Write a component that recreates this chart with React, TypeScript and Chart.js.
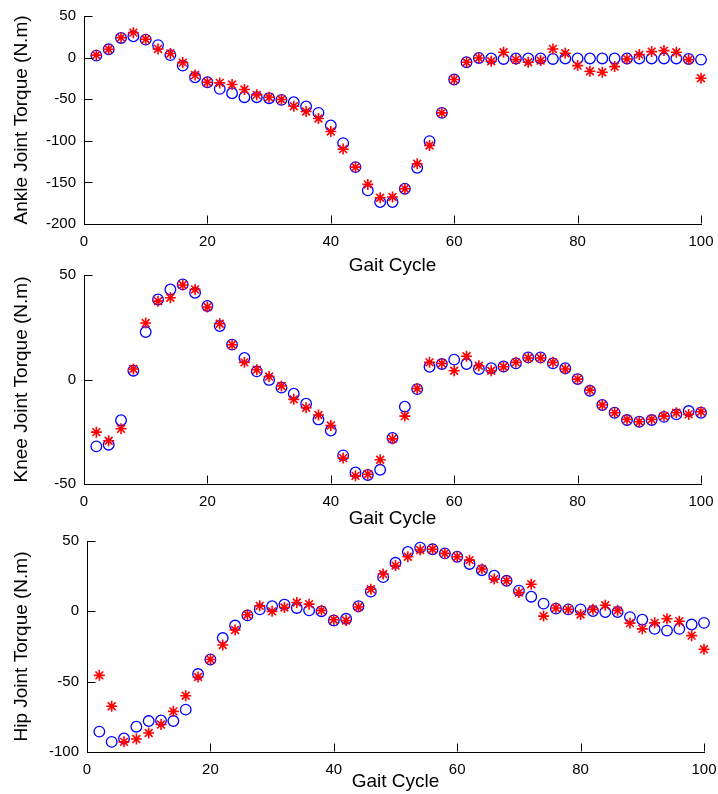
import React, { useEffect, useRef } from "react";
import { Chart, registerables } from "chart.js";

Chart.register(...registerables);

const gaitCycle = [2, 4, 6, 8, 10, 12, 14, 16, 18, 20, 22, 24, 26, 28, 30, 32, 34, 36, 38, 40, 42, 44, 46, 48, 50,
  52, 54, 56, 58, 60, 62, 64, 66, 68, 70, 72, 74, 76, 78, 80, 82, 84, 86, 88, 90, 92, 94, 96, 98, 100];

const ankleBlue = [2.4, 10, 23.6, 25.6, 21.6, 15, 3, -9.6, -23.6, -29.6, -37.6, -42.8, -47.6, -47.6, -48.8, -50.8,
  -53.6, -58.8, -66.4, -81.6, -102.8, -131.6, -159.6, -173.6,
  -173.6, -157.6, -132.4, -100.4, -66.4, -26.4, -5.6, -0.4, -1, -1.6, -1, -1, -1, -1.6, -1, -1, -1, -1, -1, -1, -1, -1, -1, -1, -1.6, -2.4];
const ankleRed = [3, 10, 24, 30, 22, 10.4, 5, -6, -21, -29.6, -30.4, -32.4, -38.4, -44.8, -47.6, -50.4, -58.4, -64.8,
  -73.2, -88.8, -110, -131.6, -152.4, -168.4,
  -167.6, -157.6, -127.6, -105.6, -66.4, -26.4, -5.6, -0.4, -4.4, 6.4, -2.4, -5.6, -3.6, 10.4, 5.2, -9.6, -16.4, -17.6,
  -10.8, -1.6, 3.6, 7.2, 8.4, 6.4, -2.4, -24.8];

const kneeBlue = [-32, -31.2, -19.5, 4.2, 22.7, 38.3, 43.1, 45.5, 41.5, 35.2, 25.6, 16.7, 10.3, 3.9, -0.2, -3.9, -6.8,
  -11.6, -19.1, -24.4, -36.3, -44.5, -45.7, -43.2,
  -28, -13, -4.6, 6.1, 7.4, 9.5, 7.4, 5, 5.4, 6.2, 7.7, 10.6, 10.6, 7.7, 5.4, 0.2, -5.4, -12.2, -15.9, -19.4, -20.2,
  -19.4, -17.9, -16.7, -15.1, -15.9];
const kneeRed = [-25.2, -29.3, -23.6, 5, 27, 37.5, 39.1, 45.2, 43.1, 34.7, 26.7, 16.6, 8.2, 4.7, 1.4, -3.1, -9.5, -13.5,
  -17, -22, -37.6, -46.1, -45.3, -38.4,
  -28.4, -17.5, -4.3, 8.2, 7.7, 4.2, 11.1, 6.6, 4.2, 6.1, 8.2, 10.3, 10.3, 8.2, 5, 0.2, -5.1, -12.2, -15.9, -19.1,
  -20.2, -19.1, -17.5, -15.9, -16.7, -15.4];

const hipBlue = [-85.5, -92.8, -90.4, -82, -78, -77.6, -78, -69.9, -44.6, -34.2, -19, -10.1, -2.9, 1.4, 3.6, 4.8, 2.4,
  0.7, 0, -6.5, -5.3, 3.6, 14, 24.3,
  34.5, 42.2, 45.3, 44.1, 41.2, 38.8, 33.7, 29.2, 25.3, 21.7, 14.7, 10.4, 5.5, 1.9, 1.4, 1.4, 0.2, -0.5, -0.5, -4.1,
  -6, -12.5, -13.7, -12.5, -9.4, -8.2];
const hipRed = [-45.5, -67.5, -92.8, -90.8, -86.5, -80.5, -71.1, -60, -46.7, -34.2, -23.9, -13.3, -2.4, 3.9, 0, 2.7,
  6.3, 5.1, 0.7, -6, -6.5, 3.1, 15.7, 26.5,
  32.5, 38.8, 43.6, 44.1, 41.2, 38.8, 36.4, 30.1, 22.9, 21.7, 13.3, 19.3, -3.4, 2.4, 1.4, -2.2, 1.4, 4.3, 0.7, -8.4,
  -12.5, -8.2, -5.3, -7, -17.3, -27];

const xTitle = "Gait Cycle";
const yTitles = ["Ankle Joint Torque (N.m)", "Knee Joint Torque (N.m)", "Hip Joint Torque (N.m)"];
const yRanges = [[-200, 50], [-50, 50], [-100, 50]];

const FONT = '"Liberation Sans", Arial, Helvetica, sans-serif';
const TICK_LEN = 8;

const innerTicks = {
  id: "innerTicks",
  afterDraw(chart: any) {
    const ctx = chart.ctx;
    const area = chart.chartArea;
    const xs = chart.scales.x;
    const ys = chart.scales.y;
    ctx.save();
    ctx.strokeStyle = "#000";
    ctx.lineWidth = 1;
    ctx.beginPath();
    const yb = Math.round(area.bottom) - 0.5;
    xs.ticks.forEach((t: any) => {
      const px = Math.round(xs.getPixelForValue(t.value)) + 0.5;
      ctx.moveTo(px, yb);
      ctx.lineTo(px, yb - TICK_LEN);
    });
    const xl = Math.round(area.left) + 0.5;
    ys.ticks.forEach((t: any) => {
      const py = Math.round(ys.getPixelForValue(t.value)) + 0.5;
      ctx.moveTo(xl, py);
      ctx.lineTo(xl + TICK_LEN, py);
    });
    ctx.stroke();
    ctx.restore();
  },
};

const zeroPad = (s: any) => {
  s.paddingLeft = 0;
  s.paddingRight = 0;
  s.paddingTop = 0;
  s.paddingBottom = 0;
};

type PanelProps = {
  top: number;
  height: number;
  padTop: number;
  axisLeft: number;
  padRight: number;
  xAxisHeight: number;
  titlePadBottom: number;
  yTitle: string;
  yMin: number;
  yMax: number;
  blue: number[];
  red: number[];
};

function Panel(p: PanelProps) {
  const ref = useRef<HTMLCanvasElement>(null);
  useEffect(() => {
    if (!ref.current) return;
    const toPts = (arr: number[]) => gaitCycle.map((x, i) => ({ x, y: arr[i] }));
    const chart = new Chart(ref.current, {
      type: "scatter",
      data: {
        datasets: [
          {
            label: "red",
            data: toPts(p.red),
            pointStyle: "star",
            pointRadius: 5.5,
            pointBorderWidth: 1.6,
            borderColor: "#ff0000",
            backgroundColor: "#ff0000",
            pointBorderColor: "#ff0000",
            clip: false,
          } as any,
          {
            label: "blue",
            data: toPts(p.blue),
            pointStyle: "circle",
            pointRadius: 5.3,
            pointBorderWidth: 1.3,
            borderColor: "#0000ff",
            pointBorderColor: "#0000ff",
            pointBackgroundColor: "rgba(0,0,0,0)",
            backgroundColor: "rgba(0,0,0,0)",
            clip: false,
          } as any,
        ],
      },
      options: {
        responsive: false,
        animation: false,
        events: [],
        layout: { autoPadding: false, padding: { top: p.padTop, right: p.padRight, left: 0, bottom: 0 } },
        plugins: { legend: { display: false }, tooltip: { enabled: false } },
        scales: {
          x: {
            type: "linear",
            position: "bottom",
            min: 0,
            max: 100,
            ticks: { stepSize: 20, padding: 8.5, color: "#000", font: { family: FONT, size: 15 }, maxRotation: 0 },
            grid: { drawOnChartArea: false, drawTicks: false, color: "#000", lineWidth: 1 },
            border: { display: true, color: "#000", width: 1 },
            title: {
              display: true,
              text: xTitle,
              color: "#000",
              font: { family: FONT, size: 19 },
              padding: { top: 0, bottom: p.titlePadBottom },
            },
            afterFit: (s: any) => {
              s.height = p.xAxisHeight;
              zeroPad(s);
            },
          },
          y: {
            type: "linear",
            position: "left",
            min: p.yMin,
            max: p.yMax,
            ticks: { stepSize: 50, padding: 8, color: "#000", font: { family: FONT, size: 15 } },
            grid: { drawOnChartArea: false, drawTicks: false, color: "#000", lineWidth: 1 },
            border: { display: true, color: "#000", width: 1 },
            title: {
              display: true,
              text: p.yTitle,
              color: "#000",
              font: { family: FONT, size: 19 },
              padding: { top: 10, bottom: 0 },
            },
            afterFit: (s: any) => {
              s.width = p.axisLeft;
              zeroPad(s);
            },
          },
        },
      } as any,
      plugins: [innerTicks],
    });
    return () => chart.destroy();
  }, []);
  return (
    <canvas
      ref={ref}
      width={718}
      height={p.height}
      style={{ position: "absolute", left: 0, top: p.top, width: 718, height: p.height }}
    />
  );
}

export default function App() {
  return (
    <div style={{ position: "fixed", left: 0, top: 0, width: 718, height: 794, overflow: "hidden", background: "#fff" }}>
      <Panel top={0} height={279} padTop={16} axisLeft={84} padRight={17} xAxisHeight={55} titlePadBottom={2}
        yTitle={yTitles[0]} yMin={yRanges[0][0]} yMax={yRanges[0][1]} blue={ankleBlue} red={ankleRed} />
      <Panel top={262} height={268} padTop={13} axisLeft={84} padRight={17} xAxisHeight={46} titlePadBottom={0}
        yTitle={yTitles[1]} yMin={yRanges[1][0]} yMax={yRanges[1][1]} blue={kneeBlue} red={kneeRed} />
      <Panel top={530} height={264} padTop={11} axisLeft={87} padRight={14} xAxisHeight={42} titlePadBottom={1}
        yTitle={yTitles[2]} yMin={yRanges[2][0]} yMax={yRanges[2][1]} blue={hipBlue} red={hipRed} />
    </div>
  );
}
